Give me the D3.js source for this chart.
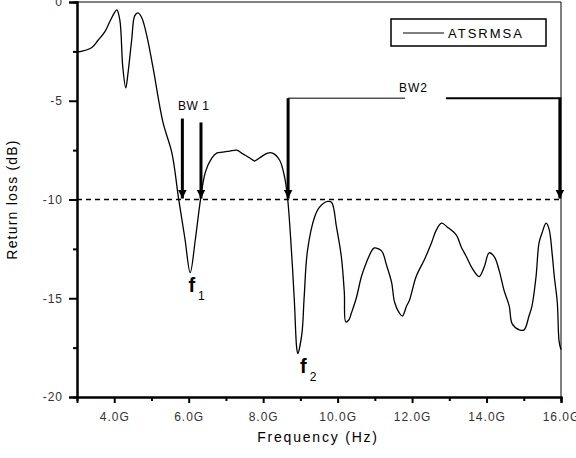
<!DOCTYPE html>
<html>
<head>
<meta charset="utf-8">
<script src="https://cdn.jsdelivr.net/npm/d3@7"></script>
<style>
  body { margin: 0; background: #fff; }
  text { font-family: "Liberation Sans", Arial, sans-serif; }
</style>
</head>
<body>
<div id="canvas"></div>
<script>
"use strict"

/* Return loss of the ATSRMSA antenna */
let freqGHz = [3.0, 3.4, 3.56, 3.75, 3.88, 4.02, 4.07, 4.15, 4.23, 4.31, 4.37, 4.47, 4.55, 4.64,
    4.74, 4.88, 5.04, 5.31, 5.55, 5.73, 5.9, 6.04, 6.18, 6.32, 6.45, 6.62, 6.75, 6.91, 7.1, 7.29,
    7.42, 7.64, 7.77, 7.9, 8.12, 8.25, 8.44, 8.58, 8.66, 8.76, 8.84, 8.9, 8.93, 9.04, 9.1, 9.19,
    9.38, 9.51, 9.73, 9.84, 9.97, 10.1, 10.18, 10.22, 10.3, 10.37, 10.5, 10.64, 10.77, 10.93,
    10.99, 11.18, 11.31, 11.45, 11.53, 11.66, 11.74, 11.85, 11.93, 12.11, 12.33, 12.52, 12.65,
    12.79, 12.95, 13.19, 13.32, 13.46, 13.62, 13.8, 13.94, 14.07, 14.21, 14.34, 14.47, 14.61,
    14.69, 14.88, 15.01, 15.14, 15.22, 15.33, 15.41, 15.49, 15.6, 15.68, 15.76, 15.82, 15.9,
    15.95, 16.0];
let returnLoss = [-2.55, -2.3, -1.95, -1.5, -1.0, -0.5, -0.4, -0.9, -3.3, -4.35, -3.6, -1.9, -0.7, -0.55,
    -0.8, -1.75, -3.3, -6.1, -7.65, -9.97, -12.0, -13.7, -12.0, -9.97, -8.6, -7.9, -7.65, -7.6, -7.55, -7.5,
    -7.65, -7.9, -8.05, -7.9, -7.65, -7.65, -8.0, -8.9, -10.0, -12.6, -15.2, -17.5, -17.8, -16.8, -15.0, -12.6,
    -10.9, -10.4, -10.1, -10.15, -11.4, -12.9, -14.7, -16.2, -16.1, -15.75, -15.0, -13.9, -13.2, -12.55,
    -12.45, -12.6, -13.3, -14.2, -15.2, -15.75, -15.9, -15.4, -15.1, -13.9, -13.05, -12.2, -11.55,
    -11.2, -11.4, -11.8, -12.4, -12.9, -13.5, -13.9, -13.4, -12.7, -12.9, -13.6, -14.6, -15.4,
    -16.3, -16.6, -16.6, -15.9, -15.4, -13.9, -12.2, -11.7, -11.2, -11.5, -12.7, -13.9, -15.2,
    -17.2, -17.6];

let xTicks = [4, 6, 8, 10, 12, 14, 16];
let xMinorTicks = [5, 7, 9, 11, 13, 15];
let yTicks = [0, -5, -10, -15, -20];
let yMinorTicks = [-2.5, -7.5, -12.5, -17.5];

// band edges marked with arrows: frequency and the top of each arrow (dB)
let bw1Freq = [5.83, 6.33];
let bw1Top = [-5.9, -6.1];
let bw2Freq = [8.67, 15.97];
let bw2Top = -4.87;
let threshold = -10;
let resonances = [{ label: "1", f: 6.1, db: -13.7 }, { label: "2", f: 9.1, db: -17.8 }];

/* drawing setup */
let svgWidth = 576;
let svgHeight = 458;
let margin = { top: 2, right: 15, bottom: 61, left: 77 };

let svg = d3.select("#canvas")
    .append("svg")
    .attr("width", svgWidth)
    .attr("height", svgHeight);

let xScale = d3.scaleLinear()
    .domain([3, 16])
    .range([margin.left, svgWidth - margin.right]);

let yScale = d3.scaleLinear()
    .domain([-20, 0])
    .range([svgHeight - margin.bottom, margin.top]);

let x0 = xScale(3), x1 = xScale(16), y0 = yScale(-20), y1 = yScale(0);

// thin top and right frame
svg.append("path")
    .attr("d", "M" + x0 + "," + y1 + "H" + x1 + "V" + y0)
    .attr("fill", "none")
    .attr("stroke", "black")
    .attr("stroke-width", 1);

/* Axes */
let xAxis = d3.axisBottom(xScale)
    .tickValues(xTicks)
    .tickSize(6)
    .tickPadding(9)
    .tickFormat(function (d) { return d.toFixed(1) + "G"; });

svg.append("g")
    .attr("transform", "translate(0," + y0 + ")")
    .call(xAxis);

svg.append("g")
    .attr("transform", "translate(0," + y0 + ")")
    .call(d3.axisBottom(xScale).tickValues(xMinorTicks).tickSize(4).tickFormat(""));

let yAxis = d3.axisLeft(yScale)
    .tickValues(yTicks)
    .tickSize(8)
    .tickPadding(6)
    .tickFormat(function (d) { return String(d); });

svg.append("g")
    .attr("transform", "translate(" + x0 + ",0)")
    .call(yAxis);

svg.append("g")
    .attr("transform", "translate(" + x0 + ",0)")
    .call(d3.axisLeft(yScale).tickValues(yMinorTicks).tickSize(4).tickFormat(""));

svg.selectAll(".domain")
    .attr("stroke-width", 2);
svg.selectAll(".tick line")
    .attr("stroke-width", 2);
svg.selectAll(".tick text")
    .style("font-size", "12px")
    .style("letter-spacing", "1px")
    .attr("fill", "#333");

/* Axis titles */
svg.append("text")
    .attr("x", 318)
    .attr("y", 442)
    .attr("text-anchor", "middle")
    .style("font-size", "14px")
    .style("letter-spacing", "1.8px")
    .text("Frequency (Hz)");

svg.append("text")
    .attr("transform", "translate(17," + (y1 + y0) / 2 + ") rotate(-90)")
    .attr("text-anchor", "middle")
    .style("font-size", "14px")
    .style("letter-spacing", "1.2px")
    .text("Return loss (dB)");

/* -10 dB reference line */
svg.append("line")
    .attr("x1", x0)
    .attr("x2", x1)
    .attr("y1", yScale(threshold))
    .attr("y2", yScale(threshold))
    .attr("stroke", "black")
    .attr("stroke-width", 1.5)
    .attr("stroke-dasharray", "5,4");

/* The curve */
let points = freqGHz.map(function (f, i) { return [f, returnLoss[i]]; });
let line = d3.line()
    .x(function (d) { return xScale(d[0]); })
    .y(function (d) { return yScale(d[1]); })
    .curve(d3.curveCatmullRom);

svg.append("path")
    .datum(points)
    .attr("d", line)
    .attr("fill", "none")
    .attr("stroke", "black")
    .attr("stroke-width", 1.3);

/* Band arrows */
svg.append("defs").append("marker")
    .attr("id", "head")
    .attr("viewBox", "0 0 10 10")
    .attr("refX", 10)
    .attr("refY", 5)
    .attr("markerWidth", 3)
    .attr("markerHeight", 3)
    .attr("orient", "auto")
    .append("path")
    .attr("d", "M0,0L10,5L0,10Z")
    .attr("fill", "black");

function arrow(f, top) {
    svg.append("line")
        .attr("x1", xScale(f))
        .attr("x2", xScale(f))
        .attr("y1", yScale(top))
        .attr("y2", yScale(threshold) - 1)
        .attr("stroke", "black")
        .attr("stroke-width", 3)
        .attr("marker-end", "url(#head)");
}

for (let i = 0; i < bw1Freq.length; i++) {
    arrow(bw1Freq[i], bw1Top[i]);
}
for (let i = 0; i < bw2Freq.length; i++) {
    arrow(bw2Freq[i], bw2Top);
}

// BW2 bracket line, with a gap for its label
let bw2Y = yScale(bw2Top);
svg.append("line")
    .attr("x1", xScale(bw2Freq[0]))
    .attr("x2", 405)
    .attr("y1", bw2Y)
    .attr("y2", bw2Y)
    .attr("stroke", "black")
    .attr("stroke-width", 1);
svg.append("line")
    .attr("x1", 446)
    .attr("x2", xScale(bw2Freq[1]) + 1.5)
    .attr("y1", bw2Y)
    .attr("y2", bw2Y)
    .attr("stroke", "black")
    .attr("stroke-width", 2);

svg.append("text")
    .attr("x", 178)
    .attr("y", 110)
    .style("font-size", "12px")
    .style("letter-spacing", "0.5px")
    .text("BW 1");

svg.append("text")
    .attr("x", 399)
    .attr("y", 92)
    .style("font-size", "12px")
    .style("letter-spacing", "1px")
    .text("BW2");

/* Resonance labels f1, f2 */
resonances.forEach(function (r) {
    let t = svg.append("text")
        .attr("x", xScale(r.f) - 4)
        .attr("y", yScale(r.db) + 19)
        .style("font-size", "20px")
        .style("font-weight", "bold");
    t.append("tspan").text("f");
    t.append("tspan")
        .attr("dx", 3)
        .attr("dy", 8)
        .style("font-size", "12px")
        .style("font-weight", "normal")
        .text(r.label);
});

/* Legend */
svg.append("rect")
    .attr("x", 391)
    .attr("y", 19)
    .attr("width", 155)
    .attr("height", 27)
    .attr("fill", "white")
    .attr("stroke", "black")
    .attr("stroke-width", 1.5);
svg.append("line")
    .attr("x1", 403)
    .attr("x2", 444)
    .attr("y1", 33)
    .attr("y2", 33)
    .attr("stroke", "black")
    .attr("stroke-width", 1);
svg.append("text")
    .attr("x", 448)
    .attr("y", 38)
    .style("font-size", "13px")
    .style("letter-spacing", "2px")
    .text("ATSRMSA");
</script>
</body>
</html>
